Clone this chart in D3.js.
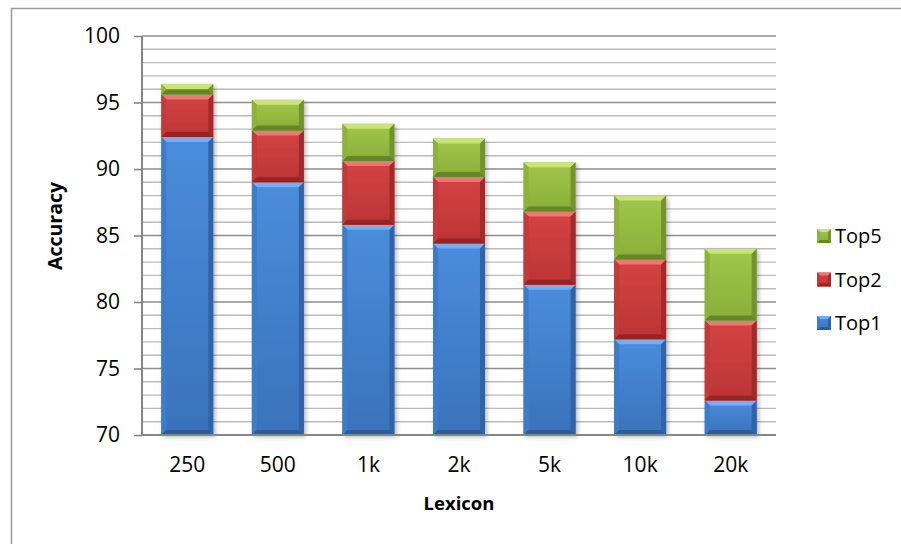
<!DOCTYPE html>
<html>
<head>
<meta charset="utf-8">
<script src="https://cdn.jsdelivr.net/npm/d3@7/dist/d3.min.js"></script>
<style>
  html, body { margin: 0; padding: 0; background: #fff; }
  svg { display: block; }
  text { font-family: "Open Sans", "Liberation Sans", sans-serif; fill: #000; }
</style>
</head>
<body>
<svg id="chart" width="901" height="544"></svg>
<script>
// Cumulative top-k recognition accuracy (%) per lexicon size
const categories = ["250", "500", "1k", "2k", "5k", "10k", "20k"];
const top1 = [92.4, 89.0, 85.8, 84.4, 81.3, 77.2, 72.6];
const top2 = [95.6, 92.9, 90.6, 89.4, 86.8, 83.2, 78.6];
const top5 = [96.4, 95.2, 93.4, 92.3, 90.5, 88.0, 84.0];
const seriesNames = ["Top1", "Top2", "Top5"];
const yTicks = [70, 75, 80, 85, 90, 95, 100];

// Bevel palette per series: face gradient top/bottom, highlight, left/right edge, bottom edge
const palette = {
  Top1: { faceTop: "#4a8ddc", faceBot: "#3a72ba", hi: "#6fb0f4", left: "#3f7cc6", right: "#3064a8", low: "#2d5c98" },
  Top2: { faceTop: "#d44444", faceBot: "#bc3434", hi: "#f27474", left: "#c03a3a", right: "#a22c2c", low: "#922626" },
  Top5: { faceTop: "#a2c74a", faceBot: "#8aae3a", hi: "#c8e674", left: "#8eb23e", right: "#72932e", low: "#66842a" }
};

const svg = d3.select("#chart");
const plot = { left: 142, right: 776, top: 36, bottom: 435 };

const x = d3.scaleBand()
  .domain(categories)
  .range([plot.left, plot.right])
  .paddingInner(0.426)
  .paddingOuter(0.213);

const y = d3.scaleLinear()
  .domain([70, 100])
  .range([plot.bottom, plot.top]);

// Outer chart frame
svg.append("rect")
  .attr("x", 11.5).attr("y", 8.5)
  .attr("width", 900).attr("height", 540)
  .attr("fill", "none").attr("stroke", "#9a9a9a").attr("stroke-width", 1.5);

const defs = svg.append("defs");
const shadow = defs.append("filter").attr("id", "barShadow")
  .attr("x", "-20%").attr("y", "-20%").attr("width", "150%").attr("height", "150%");
shadow.append("feDropShadow")
  .attr("dx", 2).attr("dy", 2).attr("stdDeviation", 2)
  .attr("flood-color", "#000").attr("flood-opacity", 0.28);

seriesNames.forEach(name => {
  const p = palette[name];
  const g = defs.append("linearGradient").attr("id", "face" + name)
    .attr("x1", 0).attr("y1", 0).attr("x2", 0).attr("y2", 1);
  g.append("stop").attr("offset", "0%").attr("stop-color", p.faceTop);
  g.append("stop").attr("offset", "100%").attr("stop-color", p.faceBot);
});

// Gridlines: minor every unit, major every 5
const gridVals = d3.range(71, 101);
svg.append("g").selectAll("line")
  .data(gridVals)
  .join("line")
  .attr("x1", plot.left).attr("x2", plot.right)
  .attr("y1", d => y(d)).attr("y2", d => y(d))
  .attr("stroke", d => d % 5 === 0 ? "#8e8e8e" : "#bcbcbc")
  .attr("stroke-width", d => d % 5 === 0 ? 1.6 : 1.4);

// Bevelled rectangle drawer
function bevelRect(g, x0, y0, w, h, name, bev) {
  const p = palette[name];
  const b = Math.max(0, Math.min(bev, h / 2, w / 2));
  const x1 = x0 + w, y1 = y0 + h;
  g.append("rect").attr("x", x0).attr("y", y0).attr("width", w).attr("height", h)
    .attr("fill", `url(#face${name})`);
  const poly = (pts, fill) => g.append("polygon")
    .attr("points", pts.map(d => d.join(",")).join(" ")).attr("fill", fill);
  poly([[x0, y0], [x1, y0], [x1 - b, y0 + b], [x0 + b, y0 + b]], p.hi);
  poly([[x0, y0], [x0 + b, y0 + b], [x0 + b, y1 - b], [x0, y1]], p.left);
  poly([[x1, y0], [x1, y1], [x1 - b, y1 - b], [x1 - b, y0 + b]], p.right);
  poly([[x0, y1], [x0 + b, y1 - b], [x1 - b, y1 - b], [x1, y1]], p.low);
}

// Stacked segments built from the cumulative accuracies
const lo = y.domain()[0];
const bars = categories.map((c, i) => ({
  cat: c,
  segs: [
    { name: "Top1", from: lo, to: top1[i] },
    { name: "Top2", from: top1[i], to: top2[i] },
    { name: "Top5", from: top2[i], to: top5[i] }
  ]
}));

const barG = svg.append("g");
bars.forEach(bar => {
  const g = barG.append("g").attr("filter", "url(#barShadow)");
  bar.segs.forEach(s => {
    const y0 = y(s.to), y1 = y(s.from);
    bevelRect(g, x(bar.cat), y0, x.bandwidth(), y1 - y0, s.name, 5);
  });
});

// Axes
const yAxis = svg.append("g")
  .attr("transform", `translate(${plot.left},0)`)
  .call(d3.axisLeft(y).tickValues(yTicks).tickSize(8).tickPadding(14));
yAxis.select(".domain").remove();
yAxis.selectAll(".tick line").attr("stroke", "#868686").attr("stroke-width", 1.6);
yAxis.selectAll(".tick text")
  .style("font-family", '"Open Sans", sans-serif').style("font-size", "21px").attr("fill", "#000");

svg.append("line")
  .attr("x1", plot.left).attr("x2", plot.left)
  .attr("y1", plot.top).attr("y2", plot.bottom)
  .attr("stroke", "#868686").attr("stroke-width", 2);
svg.append("line")
  .attr("x1", plot.left).attr("x2", plot.right)
  .attr("y1", plot.bottom).attr("y2", plot.bottom)
  .attr("stroke", "#868686").attr("stroke-width", 2);

const xAxis = svg.append("g")
  .attr("transform", `translate(0,${plot.bottom})`)
  .call(d3.axisBottom(x).tickSize(0).tickPadding(22));
xAxis.select(".domain").remove();
xAxis.selectAll(".tick text")
  .style("font-family", '"Open Sans", sans-serif').style("font-size", "21px").attr("fill", "#000");

// Axis titles
svg.append("text")
  .attr("x", (plot.left + plot.right) / 2).attr("y", 510)
  .attr("text-anchor", "middle")
  .style("font-size", "18.5px").style("font-weight", "bold")
  .text("Lexicon");
svg.append("text")
  .attr("transform", `translate(62,226) rotate(-90)`)
  .attr("text-anchor", "middle")
  .style("font-size", "19.5px").style("font-weight", "bold")
  .text("Accuracy");

// Legend (top series first)
const legendY = d3.scalePoint().domain(["Top5", "Top2", "Top1"]).range([236, 323]);
const legend = svg.append("g");
legendY.domain().forEach(name => {
  const cy = legendY(name);
  const g = legend.append("g");
  bevelRect(g, 817, cy - 7, 14, 14, name, 3);
  legend.append("text")
    .attr("x", 835).attr("y", cy).attr("dy", "0.36em")
    .style("font-size", "20px")
    .text(name);
});
</script>
</body>
</html>
